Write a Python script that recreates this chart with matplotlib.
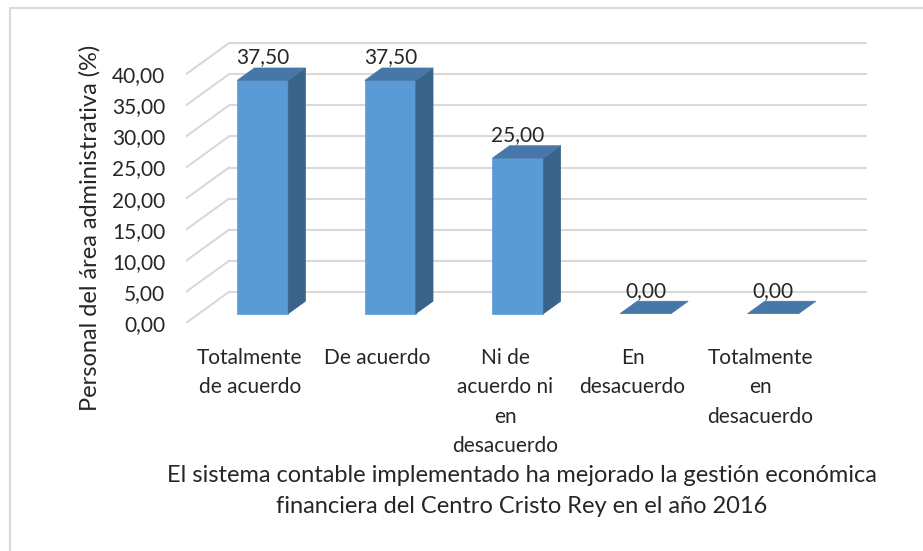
import matplotlib
matplotlib.use("Agg")
from matplotlib import pyplot as plt
from matplotlib.patches import Polygon, Rectangle

# data
categories = ["Totalmente\nde acuerdo", "De acuerdo", "Ni de\nacuerdo ni\nen\ndesacuerdo",
              "En\ndesacuerdo", "Totalmente\nen\ndesacuerdo"]
values = [37.50, 37.50, 25.00, 0.00, 0.00]
yticks = [0, 5, 10, 15, 20, 25, 30, 35, 40]
ylabel = "Personal del área administrativa (%)"
title = "El sistema contable implementado ha mejorado la gestión económica\nfinanciera del Centro Cristo Rey en el año 2016"

plt.rcParams['font.family'] = ['Lato', 'DejaVu Sans']
fs = 15
fs_title = 17
txt_color = "#262626"

# fake 3d: depth offset of the back wall, in data units
dep_x = 0.337
dep_y = 5.0
bar_w = 0.4
front_c = "#5B9BD5"
side_c = "#3A6389"
top_c = "#4677A8"
grid_c = "#D9D9D9"

W, H = 923, 551
fig = plt.figure(figsize=(W / 100, H / 100), dpi=100)

# pixel geometry of the plot area
x0_px, unit_x = 186, 127.6
y0_px, unit_y = 323, 6.22
right_px, top_px = 880, 30
ax = fig.add_axes([x0_px / W, (H - y0_px) / H, (right_px - x0_px) / W, (y0_px - top_px) / H])
ax.set_xlim(0, (right_px - x0_px) / unit_x)
ax.set_ylim(0, (y0_px - top_px) / unit_y)
for s in ax.spines.values():
    s.set_visible(False)
ax.patch.set_alpha(0)

n = len(values)
# grid: back wall lines + floor/side diagonals
for t in yticks:
    ax.plot([dep_x, n + dep_x], [t + dep_y, t + dep_y], color=grid_c, lw=1.5, zorder=1, solid_capstyle='butt')
    ax.plot([0, dep_x], [t, t + dep_y], color=grid_c, lw=1.5, zorder=1)

# bars
for i, v in enumerate(values):
    fx = i + 0.5 - bar_w / 2 + 0.3 * dep_x
    fy = 0.3 * dep_y
    dx = 0.4 * dep_x
    dy = 0.4 * dep_y
    if v > 0:
        ax.bar(fx + bar_w / 2, v, width=bar_w, bottom=fy, color=front_c, zorder=3, edgecolor=front_c, lw=0.5)
        ax.add_patch(Polygon([(fx + bar_w, fy), (fx + bar_w + dx, fy + dy), (fx + bar_w + dx, fy + v + dy),
                              (fx + bar_w, fy + v)], closed=True, facecolor=side_c, edgecolor=side_c, lw=0.5, zorder=3))
    ax.add_patch(Polygon([(fx, fy + v), (fx + bar_w, fy + v), (fx + bar_w + dx, fy + v + dy),
                          (fx + dx, fy + v + dy)], closed=True, facecolor=top_c, edgecolor=top_c, lw=0.5, zorder=4))
    ax.text(fx + bar_w / 2, fy + v + dy + 0.1, f"{v:.2f}".replace(".", ","), ha="center", va="bottom",
            fontsize=fs, color=txt_color, zorder=5)

ax.set_yticks(yticks)
ax.set_yticklabels([f"{t:.2f}".replace(".", ",") for t in yticks], fontsize=fs, color=txt_color)
ax.set_xticks([i + 0.5 for i in range(n)])
ax.set_xticklabels(categories, fontsize=fs, color=txt_color, linespacing=1.58, va="top")
ax.tick_params(axis="y", length=0, pad=15)
ax.tick_params(axis="x", length=0, pad=18)

fig.text(90 / W, 1 - 228 / H, ylabel, rotation=90, ha="center", va="center", fontsize=fs_title, color=txt_color)
fig.text(522 / W, 1 - 491 / H, title, ha="center", va="center", fontsize=fs_title, color=txt_color,
         linespacing=1.62)

# outer chart border
fig.add_artist(Rectangle((10 / W, -0.1), 1.2, 1 - 8 / H + 0.1, transform=fig.transFigure,
                         fill=False, edgecolor="#D9D9D9", lw=1.5))

fig.savefig("out.png", dpi=100)
